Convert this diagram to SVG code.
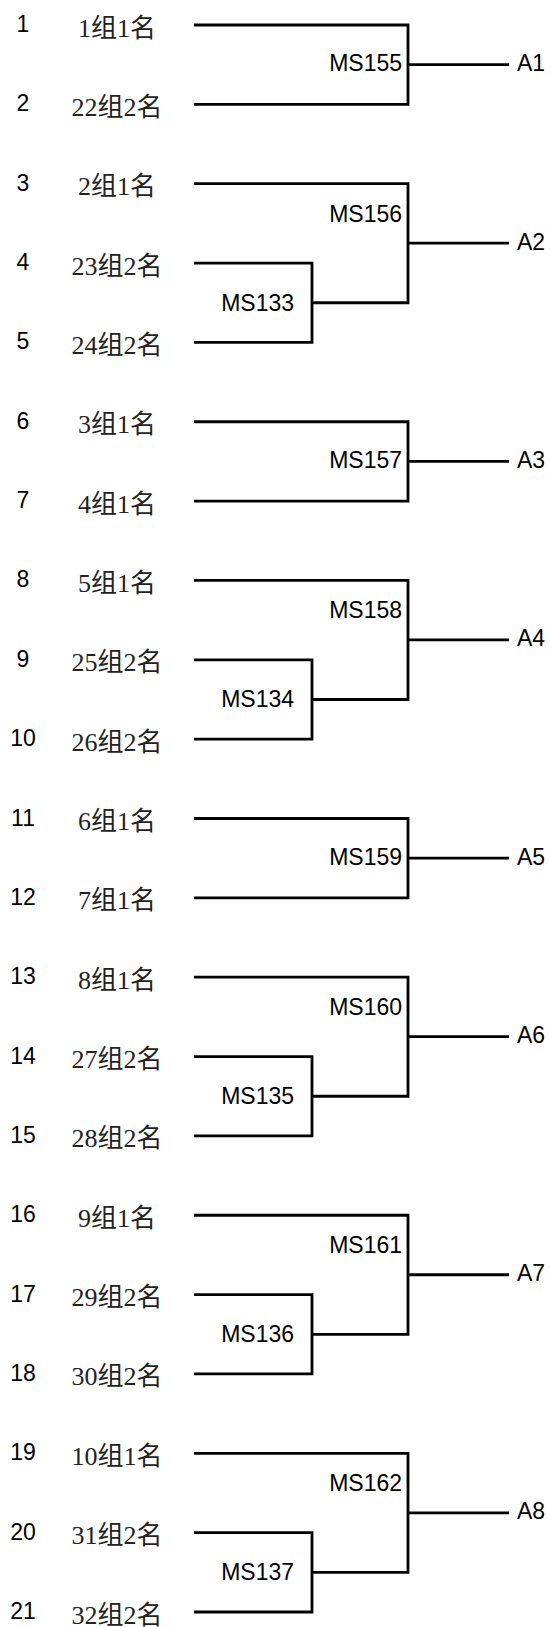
<svg xmlns="http://www.w3.org/2000/svg" width="550" height="1627" viewBox="0 0 550 1627">
<style>
.bg{fill:#fff}
.num{font-family:"Liberation Sans",Arial,sans-serif;font-size:23px;fill:#000;text-anchor:middle}
.team{font-family:"Liberation Serif","Noto Sans CJK SC",serif;font-size:26px;fill:#222;text-anchor:middle}
.ms{font-family:"Liberation Sans",Arial,sans-serif;font-size:23px;fill:#000;text-anchor:end}
.res{font-family:"Liberation Sans",Arial,sans-serif;font-size:23px;fill:#000}
.ln{fill:none;stroke:#000;stroke-width:2.8;stroke-linejoin:miter;stroke-linecap:butt}
</style>
<rect class="bg" width="550" height="1627"/>
<g id="connectors">
<path class="ln" d="M194 25H408V104.35H194M408 64.68H509"/>
<path class="ln" d="M194 183.7H408V302.73H312M194 263.05H312V342.4H194M408 243.21H509"/>
<path class="ln" d="M194 421.75H408V501.1H194M408 461.43H509"/>
<path class="ln" d="M194 580.45H408V699.48H312M194 659.8H312V739.15H194M408 639.96H509"/>
<path class="ln" d="M194 818.5H408V897.85H194M408 858.18H509"/>
<path class="ln" d="M194 977.2H408V1096.23H312M194 1056.55H312V1135.9H194M408 1036.71H509"/>
<path class="ln" d="M194 1215.25H408V1334.28H312M194 1294.6H312V1373.95H194M408 1274.76H509"/>
<path class="ln" d="M194 1453.3H408V1572.33H312M194 1532.65H312V1612H194M408 1512.81H509"/>
</g>
<g id="entry1"><text class="num" x="23" y="32">1</text><text class="team" x="117" y="36.5">1组1名</text></g>
<g id="entry2"><text class="num" x="23" y="111.35">2</text><text class="team" x="117" y="115.85">22组2名</text></g>
<g id="entry3"><text class="num" x="23" y="190.7">3</text><text class="team" x="117" y="195.2">2组1名</text></g>
<g id="entry4"><text class="num" x="23" y="270.05">4</text><text class="team" x="117" y="274.55">23组2名</text></g>
<g id="entry5"><text class="num" x="23" y="349.4">5</text><text class="team" x="117" y="353.9">24组2名</text></g>
<g id="entry6"><text class="num" x="23" y="428.75">6</text><text class="team" x="117" y="433.25">3组1名</text></g>
<g id="entry7"><text class="num" x="23" y="508.1">7</text><text class="team" x="117" y="512.6">4组1名</text></g>
<g id="entry8"><text class="num" x="23" y="587.45">8</text><text class="team" x="117" y="591.95">5组1名</text></g>
<g id="entry9"><text class="num" x="23" y="666.8">9</text><text class="team" x="117" y="671.3">25组2名</text></g>
<g id="entry10"><text class="num" x="23" y="746.15">10</text><text class="team" x="117" y="750.65">26组2名</text></g>
<g id="entry11"><text class="num" x="23" y="825.5">11</text><text class="team" x="117" y="830">6组1名</text></g>
<g id="entry12"><text class="num" x="23" y="904.85">12</text><text class="team" x="117" y="909.35">7组1名</text></g>
<g id="entry13"><text class="num" x="23" y="984.2">13</text><text class="team" x="117" y="988.7">8组1名</text></g>
<g id="entry14"><text class="num" x="23" y="1063.55">14</text><text class="team" x="117" y="1068.05">27组2名</text></g>
<g id="entry15"><text class="num" x="23" y="1142.9">15</text><text class="team" x="117" y="1147.4">28组2名</text></g>
<g id="entry16"><text class="num" x="23" y="1222.25">16</text><text class="team" x="117" y="1226.75">9组1名</text></g>
<g id="entry17"><text class="num" x="23" y="1301.6">17</text><text class="team" x="117" y="1306.1">29组2名</text></g>
<g id="entry18"><text class="num" x="23" y="1380.95">18</text><text class="team" x="117" y="1385.45">30组2名</text></g>
<g id="entry19"><text class="num" x="23" y="1460.3">19</text><text class="team" x="117" y="1464.8">10组1名</text></g>
<g id="entry20"><text class="num" x="23" y="1539.65">20</text><text class="team" x="117" y="1544.15">31组2名</text></g>
<g id="entry21"><text class="num" x="23" y="1619">21</text><text class="team" x="117" y="1623.5">32组2名</text></g>
<g id="ms133"><text class="ms" x="294" y="310.5">MS133</text></g>
<g id="ms134"><text class="ms" x="294" y="707.2">MS134</text></g>
<g id="ms135"><text class="ms" x="294" y="1104">MS135</text></g>
<g id="ms136"><text class="ms" x="294" y="1342">MS136</text></g>
<g id="ms137"><text class="ms" x="294" y="1580">MS137</text></g>
<g id="ms155"><text class="ms" x="402" y="71">MS155</text></g>
<g id="ms156"><text class="ms" x="402" y="221.5">MS156</text></g>
<g id="ms157"><text class="ms" x="402" y="467.7">MS157</text></g>
<g id="ms158"><text class="ms" x="402" y="618.2">MS158</text></g>
<g id="ms159"><text class="ms" x="402" y="864.5">MS159</text></g>
<g id="ms160"><text class="ms" x="402" y="1015">MS160</text></g>
<g id="ms161"><text class="ms" x="402" y="1253">MS161</text></g>
<g id="ms162"><text class="ms" x="402" y="1491">MS162</text></g>
<g id="a1"><text class="res" x="517" y="71">A1</text></g>
<g id="a2"><text class="res" x="517" y="249.5">A2</text></g>
<g id="a3"><text class="res" x="517" y="467.7">A3</text></g>
<g id="a4"><text class="res" x="517" y="646.2">A4</text></g>
<g id="a5"><text class="res" x="517" y="864.5">A5</text></g>
<g id="a6"><text class="res" x="517" y="1043">A6</text></g>
<g id="a7"><text class="res" x="517" y="1281">A7</text></g>
<g id="a8"><text class="res" x="517" y="1519">A8</text></g>
</svg>
